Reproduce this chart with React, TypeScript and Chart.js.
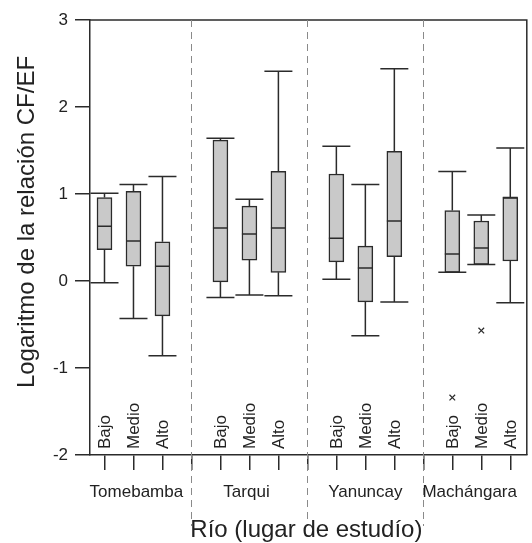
import React, { useEffect, useRef } from 'react';
import { Chart, registerables } from 'chart.js';

Chart.register(...registerables);

const rivers = ['Tomebamba', 'Tarqui', 'Yanuncay', 'Machángara'];
const levels = ['Bajo', 'Medio', 'Alto'];
const whiskerLow = [-0.02, -0.43, -0.86, -0.19, -0.16, -0.17, 0.02, -0.63, -0.24, 0.10, 0.19, -0.25];
const q1 = [0.36, 0.17, -0.40, -0.01, 0.24, 0.10, 0.22, -0.24, 0.28, 0.10, 0.19, 0.23];
const medians = [0.63, 0.46, 0.17, 0.61, 0.54, 0.61, 0.49, 0.15, 0.69, 0.31, 0.38, 0.96];
const q3 = [0.96, 1.03, 0.45, 1.62, 0.86, 1.26, 1.23, 0.40, 1.49, 0.81, 0.69, 0.96];
const whiskerHigh = [1.01, 1.11, 1.20, 1.64, 0.94, 2.41, 1.55, 1.11, 2.44, 1.26, 0.76, 1.53];
const outlierBox = [9, 10];
const outlierValues = [-1.34, -0.57];
const riverLabelPos = [2.1, 5.9, 10, 13.6];
const yTitle = 'Logaritmo de la relación CF/EF';
const xTitle = 'Río (lugar de estudío)';

const positions = q1.map((_, i) => Math.floor(i / 3) * 4 + (i % 3) + 1);
const tickPositions = Array.from({ length: 15 }, (_, i) => i + 1);
const separators = [4, 8, 12];
const boxLabels = q1.map((_, i) => levels[i % 3]);

const FONT = '"Liberation Sans", Arial, Helvetica, sans-serif';
const INK = '#2b2b2b';

const extras = {
  id: 'boxExtras',
  afterDatasetsDraw(chart: any) {
    const { ctx, scales } = chart;
    const x = scales.x;
    const y = scales.y;
    ctx.save();
    ctx.strokeStyle = INK;
    ctx.lineWidth = 1.5;
    positions.forEach((p, i) => {
      const px = x.getPixelForValue(p);
      const yHi = y.getPixelForValue(whiskerHigh[i]);
      const yLo = y.getPixelForValue(whiskerLow[i]);
      const yQ3 = y.getPixelForValue(q3[i]);
      const yQ1 = y.getPixelForValue(q1[i]);
      const yM = y.getPixelForValue(medians[i]);
      ctx.beginPath();
      ctx.moveTo(px, yQ3); ctx.lineTo(px, yHi);
      ctx.moveTo(px - 14, yHi); ctx.lineTo(px + 14, yHi);
      ctx.moveTo(px, yQ1); ctx.lineTo(px, yLo);
      ctx.moveTo(px - 14, yLo); ctx.lineTo(px + 14, yLo);
      ctx.moveTo(px - 7.5, yM); ctx.lineTo(px + 7.5, yM);
      ctx.stroke();
    });
    ctx.restore();
  },
  afterDraw(chart: any) {
    const { ctx, scales, chartArea } = chart;
    const x = scales.x;
    ctx.save();
    ctx.strokeStyle = INK;
    ctx.lineWidth = 1.5;
    ctx.beginPath();
    ctx.moveTo(chartArea.left, chartArea.top);
    ctx.lineTo(chartArea.right, chartArea.top);
    ctx.lineTo(chartArea.right, chartArea.bottom);
    ctx.stroke();
    ctx.strokeStyle = '#8a8a8a';
    ctx.lineWidth = 1;
    ctx.setLineDash([7, 5]);
    separators.forEach((s) => {
      const px = Math.round(x.getPixelForValue(s)) + 0.5;
      ctx.beginPath();
      ctx.moveTo(px, chartArea.top);
      ctx.lineTo(px, 526);
      ctx.stroke();
    });
    ctx.setLineDash([]);
    ctx.fillStyle = '#222';
    ctx.font = `17px ${FONT}`;
    positions.forEach((p, i) => {
      const px = x.getPixelForValue(p);
      ctx.save();
      ctx.translate(px + 1, chartArea.bottom - 6);
      ctx.rotate(-Math.PI / 2);
      ctx.textAlign = 'left';
      ctx.textBaseline = 'middle';
      ctx.fillText(boxLabels[i], 0, 0);
      ctx.restore();
    });
    ctx.textAlign = 'center';
    ctx.textBaseline = 'alphabetic';
    rivers.forEach((r, i) => {
      ctx.fillText(r, x.getPixelForValue(riverLabelPos[i]), 497);
    });
    ctx.font = `24px ${FONT}`;
    ctx.fillText(xTitle, (chartArea.left + chartArea.right) / 2 - 2, 537);
    ctx.save();
    ctx.translate(34, 222);
    ctx.rotate(-Math.PI / 2);
    ctx.textAlign = 'center';
    ctx.textBaseline = 'alphabetic';
    ctx.fillText(yTitle, 0, 0);
    ctx.restore();
    ctx.restore();
  },
};

export default function App() {
  const ref = useRef<HTMLCanvasElement | null>(null);
  useEffect(() => {
    document.body.style.margin = '0';
    const canvas = ref.current!;
    const chart = new Chart(canvas, {
      type: 'bar',
      data: {
        datasets: [
          {
            type: 'bar',
            data: positions.map((p, i) => ({ x: p, y: [q1[i], q3[i]] })) as any,
            backgroundColor: '#c9c9c9',
            borderColor: INK,
            borderWidth: 1.5,
            borderSkipped: false,
            barThickness: 15,
          } as any,
          {
            type: 'scatter',
            data: outlierBox.map((b, i) => ({ x: positions[b], y: outlierValues[i] })),
            pointStyle: 'crossRot',
            radius: 4,
            borderColor: INK,
            borderWidth: 1.2,
            backgroundColor: INK,
          } as any,
        ],
      },
      options: {
        responsive: false,
        animation: false,
        events: [],
        layout: { padding: { top: 20, right: 4, left: 0, bottom: 0 } },
        plugins: { legend: { display: false }, tooltip: { enabled: false }, title: { display: false } },
        scales: {
          x: {
            type: 'linear',
            min: 0.5,
            max: 15.57,
            offset: false,
            afterBuildTicks: (s: any) => {
              s.ticks = tickPositions.map((v) => ({ value: v }));
            },
            afterFit: (s: any) => {
              s.height = 88;
            },
            ticks: { callback: () => '', padding: 0 },
            grid: { offset: false, drawOnChartArea: false, drawTicks: true, tickLength: 15, color: INK, lineWidth: 1.5 },
            border: { display: true, color: INK, width: 1.5 },
          },
          y: {
            type: 'linear',
            min: -2,
            max: 3,
            afterFit: (s: any) => {
              s.width = 90;
            },
            ticks: { stepSize: 1, color: '#222', font: { size: 17, family: FONT }, padding: 7 },
            grid: { drawOnChartArea: false, drawTicks: true, tickLength: 15, color: INK, lineWidth: 1.5 },
            border: { display: true, color: INK, width: 1.5 },
          },
        },
      },
      plugins: [extras],
    });
    return () => chart.destroy();
  }, []);
  return <canvas ref={ref} width={532} height={543} />;
}
